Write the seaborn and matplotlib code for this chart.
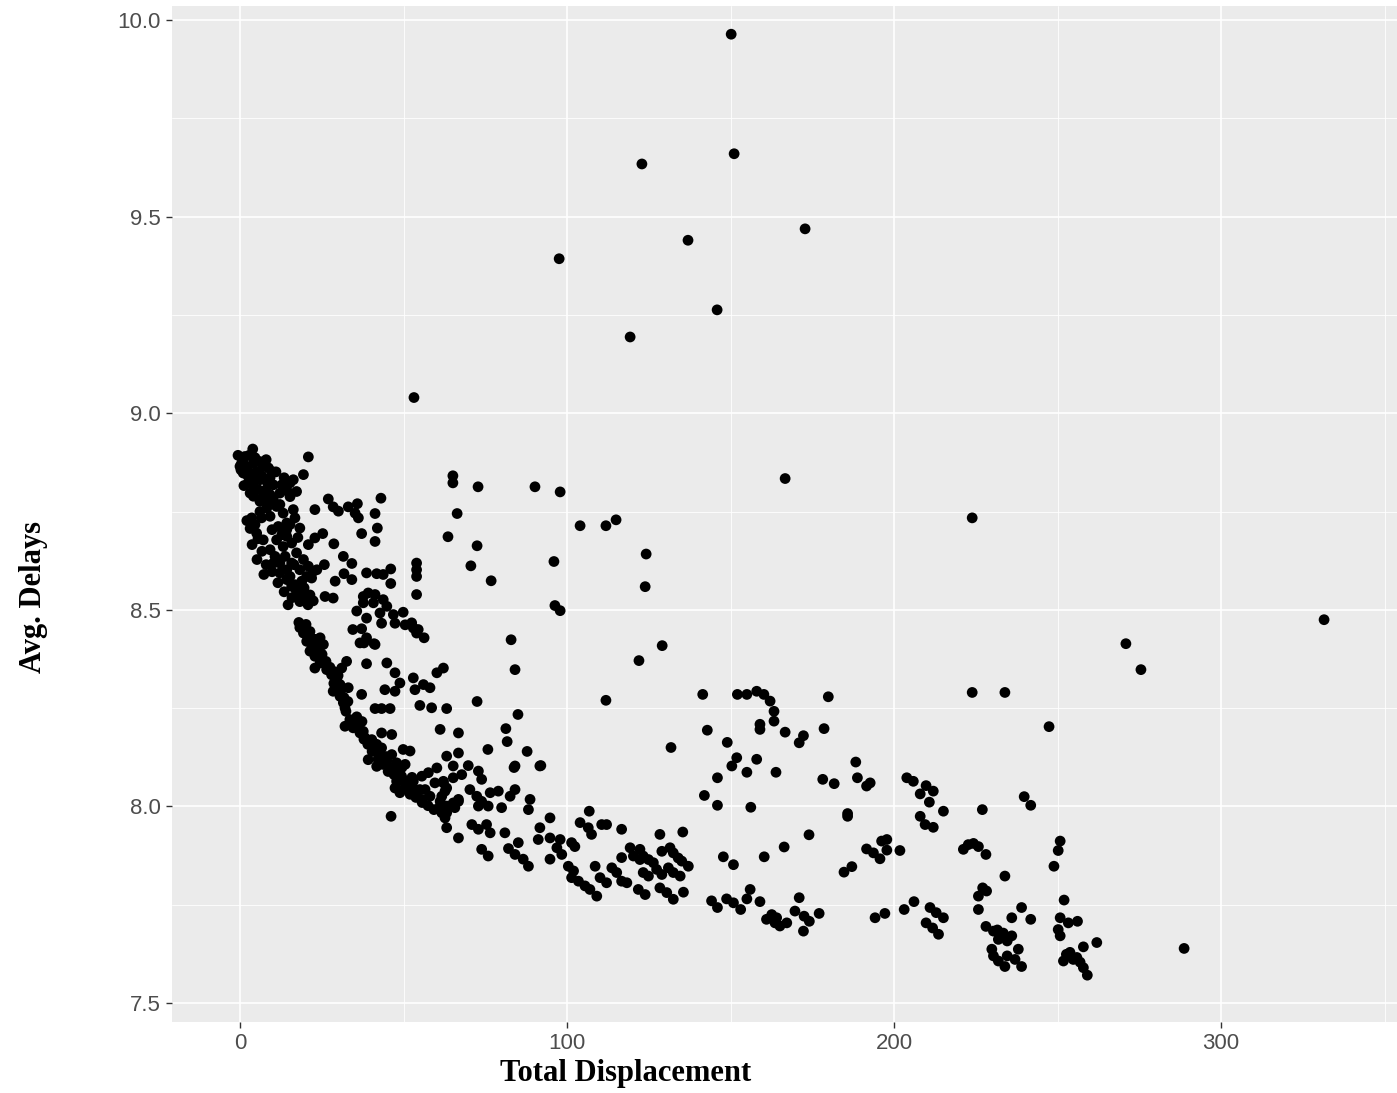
import pandas as pd
import seaborn as sns
import matplotlib
matplotlib.use("Agg")
import matplotlib.pyplot as plt

# points, grouped by region (total displacement, avg. delay)
outliers = [(150.2, 9.964), (151.1, 9.660), (122.9, 9.634), (137.0, 9.440), (172.8, 9.469),
            (97.6, 9.393), (145.9, 9.263), (119.3, 9.194), (53.2, 9.040), (166.7, 8.834),
            (331.5, 8.475), (270.9, 8.414), (275.5, 8.348), (223.9, 8.734), (223.9, 8.290),
            (233.9, 8.290), (247.4, 8.203), (288.7, 7.639), (46.2, 7.975)]

upper_band = [(3.9, 8.909), (1.5, 8.890), (0.5, 8.873), (0.0, 8.865), (2.0, 8.865), (4.1, 8.873),
              (3.1, 8.848), (1.0, 8.848), (5.1, 8.852), (7.1, 8.865), (8.7, 8.861), (9.7, 8.852),
              (6.1, 8.831), (2.5, 8.823), (4.1, 8.814), (8.2, 8.827), (10.2, 8.818), (12.8, 8.818),
              (15.3, 8.823), (16.3, 8.831), (17.3, 8.801), (19.4, 8.844), (20.9, 8.889), (12.2, 8.797),
              (9.2, 8.793), (7.1, 8.789), (4.1, 8.789), (3.1, 8.797), (6.1, 8.776), (10.2, 8.780),
              (11.2, 8.763), (8.2, 8.759), (6.1, 8.750), (3.6, 8.734), (4.6, 8.717), (6.6, 8.734),
              (9.2, 8.738), (13.2, 8.746), (16.3, 8.755), (16.8, 8.734), (18.3, 8.708), (14.3, 8.721),
              (11.7, 8.712), (14.3, 8.704), (5.1, 8.695), (7.1, 8.678), (9.2, 8.653), (10.7, 8.636),
              (12.2, 8.619), (14.3, 8.602), (15.3, 8.585), (16.8, 8.564), (17.8, 8.543), (19.9, 8.534),
              (11.2, 8.678), (13.2, 8.661), (14.3, 8.687), (15.8, 8.670), (17.3, 8.645), (19.4, 8.628),
              (20.9, 8.611), (22.4, 8.598), (23.5, 8.602), (20.4, 8.585), (18.9, 8.573), (21.9, 8.581),
              (13.8, 8.636), (15.8, 8.619), (10.2, 8.619), (12.2, 8.594), (14.3, 8.577), (15.8, 8.560),
              (22.4, 8.523), (25.8, 8.615), (20.9, 8.666), (25.3, 8.694), (22.9, 8.683), (27.0, 8.782),
              (22.9, 8.755), (28.5, 8.762), (30.1, 8.751), (33.1, 8.762), (35.9, 8.770), (35.2, 8.746),
              (36.2, 8.734), (43.1, 8.784), (41.3, 8.745), (42.0, 8.708), (37.2, 8.694), (41.3, 8.674),
              (28.7, 8.668), (31.6, 8.636), (34.2, 8.618), (29.1, 8.573), (31.8, 8.592), (34.2, 8.577),
              (38.7, 8.594), (41.8, 8.592), (43.8, 8.590), (46.1, 8.604), (46.1, 8.567), (39.2, 8.543),
              (41.3, 8.539), (37.7, 8.534), (37.7, 8.518), (40.8, 8.518), (43.8, 8.526), (44.9, 8.509),
              (42.8, 8.492), (46.9, 8.488), (49.9, 8.494), (52.5, 8.467), (54.5, 8.450), (56.3, 8.429),
              (35.7, 8.497), (38.7, 8.479), (43.3, 8.466), (34.5, 8.450), (37.2, 8.452), (37.9, 8.416),
              (41.0, 8.414), (26.0, 8.534), (28.5, 8.530), (54.0, 8.619), (54.0, 8.602), (54.0, 8.585),
              (54.0, 8.539), (18.0, 8.468), (19.9, 8.450), (21.4, 8.433), (22.4, 8.416), (24.5, 8.407)]

lower_band = [(19.4, 8.441), (20.4, 8.420), (21.9, 8.412), (24.5, 8.429), (25.5, 8.412), (21.4, 8.395),
              (22.9, 8.382), (24.5, 8.365), (22.9, 8.352), (26.5, 8.348), (28.0, 8.335), (29.6, 8.323),
              (30.6, 8.310), (28.5, 8.293), (30.6, 8.280), (31.6, 8.264), (33.1, 8.302), (32.1, 8.251),
              (35.7, 8.228), (32.1, 8.204), (34.6, 8.200), (36.7, 8.187), (38.2, 8.175), (39.8, 8.162),
              (41.3, 8.145), (42.8, 8.132), (44.9, 8.115), (46.4, 8.098), (47.9, 8.086), (49.4, 8.077),
              (51.0, 8.064), (52.5, 8.052), (54.0, 8.035), (55.6, 8.018), (37.7, 8.191), (40.3, 8.170),
              (41.8, 8.158), (39.2, 8.119), (41.8, 8.102), (43.3, 8.149), (46.4, 8.132), (47.9, 8.111),
              (50.5, 8.107), (49.9, 8.145), (52.0, 8.141), (47.4, 8.047), (48.9, 8.035), (47.9, 8.064),
              (53.0, 8.064), (55.6, 8.077), (57.6, 8.086), (60.2, 8.098), (59.6, 8.060), (62.2, 8.064),
              (63.2, 8.047), (56.6, 8.043), (58.1, 8.026), (61.2, 8.013), (63.2, 8.001), (61.7, 7.984),
              (62.7, 7.971), (65.2, 8.009), (66.8, 8.018), (63.2, 8.128), (66.8, 8.136), (61.2, 8.196),
              (66.8, 8.187), (63.2, 8.249), (58.6, 8.251), (55.0, 8.257), (45.9, 8.249), (43.3, 8.249),
              (41.3, 8.249), (37.2, 8.285), (44.3, 8.297), (47.4, 8.293), (48.9, 8.314), (47.4, 8.340),
              (44.9, 8.365), (38.7, 8.363), (32.6, 8.369), (31.1, 8.352), (53.5, 8.297), (56.1, 8.310),
              (58.1, 8.302), (53.0, 8.327), (60.2, 8.340), (62.2, 8.352), (43.3, 8.187), (46.4, 8.183),
              (36.7, 8.416), (38.7, 8.429), (41.3, 8.412), (47.4, 8.466), (50.5, 8.462), (53.0, 8.454),
              (54.0, 8.441)]

# extra points inside the solid black masses of the two bands
dense_fill = [(-0.6, 8.893), (0.9, 8.880), (2.8, 8.893), (4.6, 8.887), (6.1, 8.877), (8.0, 8.882),
              (0.3, 8.856), (2.4, 8.841), (4.9, 8.831), (6.7, 8.841), (9.2, 8.836), (11.0, 8.851),
              (1.2, 8.816), (5.5, 8.806), (8.0, 8.806), (13.5, 8.836), (14.4, 8.803), (8.6, 8.773),
              (12.2, 8.768), (15.3, 8.788), (2.1, 8.727), (3.1, 8.707), (5.5, 8.681), (3.7, 8.666),
              (6.7, 8.649), (5.2, 8.628), (8.0, 8.615), (9.8, 8.597), (7.3, 8.590), (11.6, 8.569),
              (13.5, 8.546), (15.9, 8.531), (18.3, 8.521), (20.8, 8.513), (14.7, 8.513), (17.1, 8.551),
              (19.6, 8.556), (21.4, 8.538), (18.3, 8.602), (16.5, 8.615), (12.8, 8.691), (15.3, 8.717),
              (17.7, 8.684), (9.8, 8.704), (18.3, 8.455), (20.2, 8.463), (21.4, 8.445), (23.2, 8.425),
              (23.9, 8.399), (25.1, 8.387), (26.3, 8.369), (27.5, 8.354), (28.7, 8.343), (30.0, 8.333),
              (28.7, 8.313), (30.9, 8.297), (31.8, 8.277), (33.0, 8.267), (32.4, 8.242), (33.6, 8.221),
              (35.8, 8.206), (37.3, 8.216), (37.9, 8.171), (39.1, 8.158), (40.4, 8.140), (42.2, 8.120),
              (43.7, 8.107), (45.3, 8.089), (47.1, 8.081), (48.3, 8.064), (50.5, 8.048), (52.0, 8.031),
              (53.8, 8.023), (55.7, 8.010), (57.5, 8.002), (59.3, 7.992), (55.0, 8.043), (52.6, 8.074),
              (49.5, 8.099), (42.2, 8.150), (44.6, 8.127)]

mid_scatter = [(65.1, 8.841), (65.1, 8.823), (72.8, 8.813), (66.4, 8.745), (63.6, 8.686), (70.6, 8.612),
               (72.5, 8.663), (76.8, 8.574), (90.2, 8.813), (97.9, 8.800), (104.0, 8.714), (111.9, 8.714),
               (115.0, 8.729), (96.0, 8.623), (96.3, 8.511), (97.9, 8.498), (124.2, 8.642), (123.9, 8.559),
               (129.1, 8.409), (122.0, 8.371), (82.9, 8.424), (84.1, 8.348), (72.5, 8.267), (85.0, 8.234),
               (81.3, 8.198), (81.7, 8.165), (87.8, 8.140), (83.8, 8.099), (92.0, 8.104), (75.8, 8.145),
               (111.9, 8.270), (131.8, 8.150),
               (65.2, 8.103), (69.8, 8.104), (72.9, 8.090), (73.9, 8.069), (67.8, 8.081), (65.2, 8.073),
               (62.2, 8.060), (62.7, 8.039), (61.7, 8.026), (61.2, 8.001), (63.2, 7.984), (63.2, 7.946),
               (66.8, 7.920), (70.3, 8.043), (72.4, 8.026), (73.9, 8.013), (76.5, 8.035), (79.0, 8.039),
               (80.0, 7.997), (75.9, 8.001), (72.9, 8.001), (66.8, 8.013), (65.7, 7.997), (84.1, 8.043),
               (82.6, 8.026), (84.1, 8.103), (91.7, 8.103), (88.7, 8.018), (88.2, 7.992), (70.9, 7.954),
               (72.9, 7.942), (75.4, 7.954), (76.5, 7.933), (81.0, 7.933), (85.1, 7.908), (82.1, 7.893),
               (84.1, 7.878), (86.6, 7.866), (88.2, 7.848), (73.9, 7.891), (75.9, 7.874), (94.8, 7.971),
               (91.7, 7.946), (91.2, 7.916), (94.8, 7.920), (97.9, 7.916), (101.4, 7.908), (102.4, 7.898),
               (96.9, 7.895), (98.4, 7.878), (94.8, 7.866), (100.4, 7.848), (102.0, 7.836), (101.4, 7.819),
               (103.5, 7.810), (105.5, 7.798), (107.0, 7.789), (109.1, 7.772), (106.8, 7.988), (104.0, 7.959),
               (106.5, 7.946), (107.5, 7.929), (110.6, 7.954), (112.1, 7.954), (116.7, 7.942), (108.6, 7.848),
               (110.1, 7.819), (112.1, 7.806), (113.7, 7.844), (115.2, 7.832), (116.7, 7.810), (119.3, 7.895),
               (116.7, 7.870), (122.3, 7.891), (123.3, 7.874), (124.9, 7.865), (126.4, 7.857), (122.3, 7.865),
               (120.3, 7.874), (128.4, 7.929), (129.0, 7.886), (131.5, 7.895), (132.5, 7.882), (134.0, 7.869),
               (135.1, 7.861), (137.1, 7.848), (135.4, 7.935), (123.3, 7.832), (124.9, 7.823), (127.4, 7.840),
               (129.0, 7.827), (131.0, 7.844), (132.5, 7.832), (134.6, 7.823), (118.3, 7.806), (121.8, 7.789),
               (123.9, 7.776), (128.4, 7.793), (130.5, 7.781), (132.5, 7.764), (135.6, 7.782)]

right_scatter = [(141.5, 8.285), (152.1, 8.285), (155.0, 8.285), (158.0, 8.293), (160.2, 8.285),
                 (162.1, 8.268), (163.3, 8.242), (163.3, 8.217), (159.0, 8.209), (159.0, 8.196),
                 (166.7, 8.189), (172.3, 8.180), (171.0, 8.162), (179.9, 8.279), (178.6, 8.198),
                 (142.9, 8.194), (149.0, 8.163), (151.9, 8.124), (150.4, 8.103), (155.0, 8.087),
                 (158.0, 8.120), (163.9, 8.087), (146.0, 8.073), (142.0, 8.028), (146.0, 8.003),
                 (156.2, 7.998), (178.2, 8.069), (181.7, 8.058), (188.3, 8.113), (188.8, 8.073),
                 (192.7, 8.060), (191.6, 8.052), (203.9, 8.073), (205.9, 8.064), (209.8, 8.053),
                 (212.0, 8.039), (208.0, 8.032), (210.8, 8.011), (215.1, 7.988), (227.0, 7.992),
                 (185.8, 7.982), (185.8, 7.975), (208.0, 7.975), (209.5, 7.954), (212.0, 7.947),
                 (174.0, 7.928), (166.4, 7.897), (160.3, 7.872), (147.8, 7.872), (150.9, 7.852),
                 (187.1, 7.847), (184.7, 7.833), (191.6, 7.892), (193.7, 7.882), (196.2, 7.912),
                 (197.8, 7.916), (197.8, 7.889), (195.7, 7.867), (201.8, 7.888), (221.2, 7.891),
                 (222.7, 7.903), (224.3, 7.906), (225.8, 7.898), (228.1, 7.878), (227.1, 7.793),
                 (228.3, 7.785), (225.8, 7.772), (225.8, 7.738), (144.2, 7.760), (146.0, 7.743),
                 (148.8, 7.765), (150.9, 7.755), (153.1, 7.738), (155.0, 7.765), (156.0, 7.789),
                 (159.0, 7.758), (161.0, 7.713), (162.6, 7.725), (164.1, 7.717), (165.1, 7.696),
                 (167.2, 7.704), (163.6, 7.704), (169.7, 7.734), (171.0, 7.768), (172.5, 7.721),
                 (174.1, 7.708), (172.3, 7.683), (177.1, 7.728), (194.2, 7.717), (197.2, 7.728),
                 (203.1, 7.738), (206.1, 7.758), (211.0, 7.743), (212.9, 7.730), (215.1, 7.717),
                 (209.8, 7.704), (211.8, 7.691), (213.6, 7.675), (228.1, 7.695), (230.4, 7.683),
                 (239.8, 8.025), (241.8, 8.003), (233.9, 7.823), (231.6, 7.686), (233.4, 7.678),
                 (236.0, 7.671), (231.9, 7.662), (234.6, 7.658), (238.0, 7.637), (229.9, 7.637),
                 (230.4, 7.620), (231.9, 7.607), (233.9, 7.593), (234.6, 7.620), (237.0, 7.611),
                 (239.0, 7.593), (236.0, 7.717), (239.0, 7.743), (241.8, 7.713), (250.8, 7.912),
                 (250.2, 7.888), (248.9, 7.848), (252.0, 7.762), (250.8, 7.717), (253.3, 7.704),
                 (256.1, 7.708), (250.2, 7.687), (250.8, 7.671), (262.0, 7.654), (257.9, 7.643),
                 (253.8, 7.629), (255.9, 7.616), (251.8, 7.607), (256.9, 7.604), (257.9, 7.590),
                 (259.1, 7.571), (254.8, 7.611), (252.7, 7.624)]

groups = [outliers, upper_band, lower_band, dense_fill, mid_scatter, right_scatter]
rows = [p for g in groups for p in g]
df = pd.DataFrame(rows, columns=["Total Displacement", "Avg. Delays"])

sns.set_theme(style="darkgrid")
plt.rcParams['font.family'] = ['Liberation Sans', 'DejaVu Sans']

fig = plt.figure(figsize=(13.97, 10.93), dpi=100)
ax = fig.add_axes([0.1231, 0.065, 0.8769, 0.9296])
ax.set_facecolor("#EBEBEB")

sns.scatterplot(data=df, x="Total Displacement", y="Avg. Delays", ax=ax,
                color="black", s=60, edgecolor="none", linewidth=0)

ax.set_xlim(-20.8, 353.8)
ax.set_ylim(7.452, 10.036)
ax.set_xticks([0, 100, 200, 300])
ax.set_xticks([50, 150, 250, 350], minor=True)
ax.set_yticks([7.5, 8.0, 8.5, 9.0, 9.5, 10.0])
ax.set_yticklabels(["7.5", "8.0", "8.5", "9.0", "9.5", "10.0"])
ax.set_yticks([7.75, 8.25, 8.75, 9.25, 9.75], minor=True)

ax.grid(which="major", color="white", linewidth=1.2)
ax.grid(which="minor", color="white", linewidth=0.6)
ax.set_axisbelow(True)
for s in ax.spines.values():
    s.set_visible(False)

ax.tick_params(which="major", length=4, width=1, color="#333333",
               labelsize=16, labelcolor="#4D4D4D", pad=4, bottom=True, left=True)
ax.tick_params(which="minor", length=0)

ax.set_xlabel("Total Displacement", fontsize=22, fontweight="bold",
              family=["Liberation Serif", "DejaVu Serif"], color="black", va="top")
ax.xaxis.set_label_coords(0.37, -0.036)
ax.set_ylabel("Avg. Delays", fontsize=22, fontweight="bold",
              family=["Liberation Serif", "DejaVu Serif"], color="black", va="center")
ax.yaxis.set_label_coords(-0.1127, 0.418)

fig.savefig("out.png", dpi=100)
